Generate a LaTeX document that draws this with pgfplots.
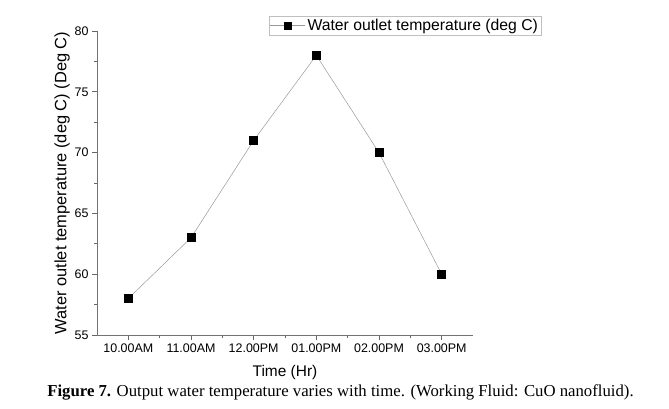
\documentclass[border=0pt]{standalone}
\usepackage{fontspec}
\setmainfont{Liberation Sans}
\newfontfamily\capfont{Liberation Serif}
\usepackage{pgfplots}
\pgfplotsset{compat=1.18}
\begin{document}
\begin{tikzpicture}[x=1bp,y=1bp]
\path[use as bounding box] (0,0) rectangle (669,408);
\begin{axis}[
  at={(97bp,73bp)}, anchor=south west,
  scale only axis, width=376bp, height=304bp,
  xmin=-0.5, xmax=5.5, ymin=55, ymax=80,
  axis x line*=bottom, axis y line*=left,
  axis line style={black!55, line width=0.9pt, -},
  xtick={0,...,5},
  xticklabels={10.00AM,11.00AM,12.00PM,01.00PM,02.00PM,03.00PM},
  ytick={55,60,...,80},
  minor x tick num=1, minor y tick num=1,
  tick align=outside,
  major tick length=5bp, minor tick length=3bp,
  every tick/.style={black!60, line width=0.8pt},
  tick label style={font=\fontsize{12.5}{14}\selectfont},
  /pgf/number format/assume math mode=true,
  xlabel={Time (Hr)},
  ylabel={Water outlet temperature (deg C) (Deg C)},
  xlabel style={at={(axis description cs:0.5,-0.124)}, anchor=center, font=\fontsize{15.5}{17}\selectfont},
  ylabel style={at={(axis description cs:-0.093,0.5)}, anchor=center, font=\fontsize{16.5}{18}\selectfont},
  legend style={at={(axis description cs:0.819,1.049)}, anchor=north,
    draw=black!25, font=\fontsize{15.8}{17}\selectfont, inner sep=1bp,
    legend cell align=left},
  legend image code/.code={\draw[mark repeat=2,mark phase=2,mark size=3.5bp] plot coordinates {(0cm,0cm) (0.62cm,0cm) (1.24cm,0cm)};},
]
\addplot[color=black!40, line width=0.5pt, mark=square*,
  mark options={black, fill=black, solid}, mark size=4bp]
  coordinates {(0,58) (1,63) (2,71) (3,78) (4,70) (5,60)};
\addlegendentry{Water outlet temperature (deg C)}
\end{axis}
\node[font=\capfont\fontsize{16.8}{18}\selectfont] at (340.5,16)
  {\textbf{Figure 7.} Output water temperature varies with time. (Working Fluid: CuO nanofluid).};
\end{tikzpicture}
\end{document}
